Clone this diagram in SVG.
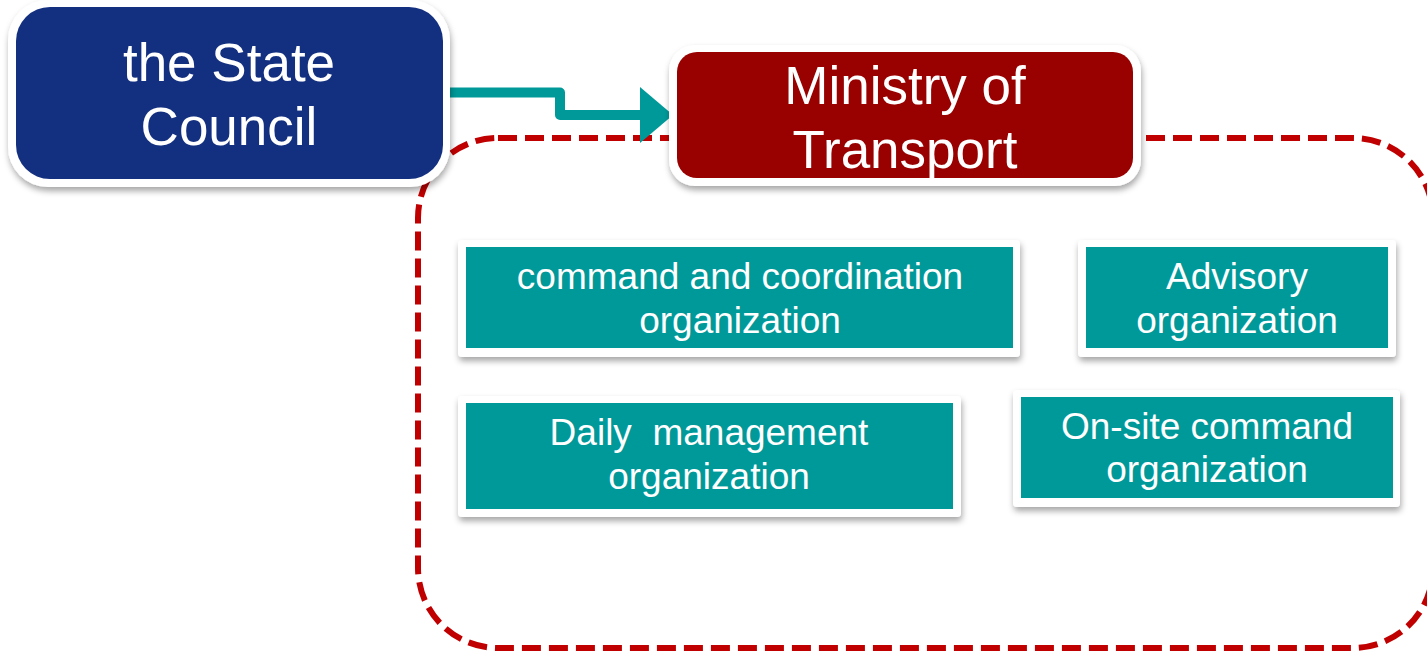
<svg xmlns="http://www.w3.org/2000/svg" width="1427" height="652" viewBox="0 0 1427 652">
<style>
.t{font-family:"Liberation Sans",Arial,sans-serif;fill:#fff;text-anchor:middle;white-space:pre}
.big{font-size:53px}
.sm{font-size:37px}
.frame{fill:#fff;filter:url(#sh)}
.teal{fill:#009999}
</style>
<defs>
<filter id="sh" x="-10%" y="-10%" width="120%" height="130%">
<feDropShadow dx="1" dy="4" stdDeviation="3" flood-color="#000" flood-opacity="0.35"/>
</filter>
</defs>
<rect width="1427" height="652" fill="#fff"/>
<g id="region">
<rect x="418" y="138" width="1015" height="510" rx="80" ry="80" fill="none" stroke="#c00000" stroke-width="6" stroke-dasharray="19 8"/>
</g>
<g id="connectors">
<path d="M447 92.5 H560 V115 H642" fill="none" stroke="#009999" stroke-width="10" stroke-linejoin="round"/>
<polygon points="640,87 673,115 640,143" fill="#009999"/>
</g>
<g id="state-council">
<rect class="frame" x="8" y="0" width="442" height="187" rx="40"/>
<rect x="16" y="7" width="427" height="172" rx="34" fill="#132f7f"/>
<text class="t big" x="229" y="81">the State</text>
<text class="t big" x="229" y="145">Council</text>
</g>
<g id="ministry">
<rect class="frame" x="669" y="45" width="472" height="141" rx="26"/>
<rect x="677" y="52" width="456" height="126" rx="20" fill="#990000"/>
<text class="t big" x="905" y="104">Ministry of</text>
<text class="t big" x="905" y="168">Transport</text>
</g>
<g id="command-coordination">
<rect class="frame" x="458" y="240" width="562" height="117" rx="4"/>
<rect class="teal" x="466" y="247" width="547" height="101"/>
<text class="t sm" x="740" y="289">command and coordination</text>
<text class="t sm" x="740" y="333">organization</text>
</g>
<g id="advisory">
<rect class="frame" x="1078" y="240" width="318" height="117" rx="4"/>
<rect class="teal" x="1086" y="247" width="302" height="101"/>
<text class="t sm" x="1237" y="289">Advisory</text>
<text class="t sm" x="1237" y="333">organization</text>
</g>
<g id="daily-management">
<rect class="frame" x="458" y="396" width="503" height="121" rx="4"/>
<rect class="teal" x="466" y="403" width="487" height="106"/>
<text class="t sm" x="709" y="445">Daily  management</text>
<text class="t sm" x="709" y="489">organization</text>
</g>
<g id="on-site-command">
<rect class="frame" x="1013" y="390" width="387" height="117" rx="4"/>
<rect class="teal" x="1021" y="397" width="372" height="101"/>
<text class="t sm" x="1207" y="439">On-site command</text>
<text class="t sm" x="1207" y="482">organization</text>
</g>
</svg>
